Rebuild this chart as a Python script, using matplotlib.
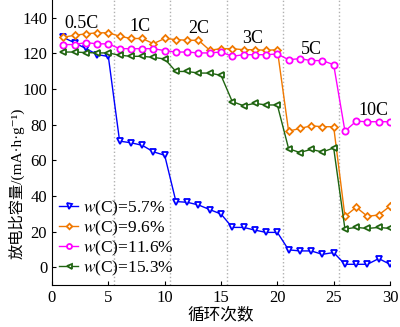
import numpy as np
import matplotlib.pyplot as plt

plt.rcParams['font.family'] = ['Liberation Serif', 'Noto Sans CJK SC', 'DejaVu Serif']
plt.rcParams['mathtext.fontset'] = 'stix'

cycles = np.arange(1, 31)
cap_57 = [129, 126, 122.8, 119.4, 118.3, 70.8, 69.9, 68.5, 64.8, 62.9,
          36.9, 36.5, 35, 32.4, 29.9, 22.4, 22.4, 20.9, 19.6, 19.6,
          9.8, 9.2, 9.2, 7.3, 8.3, 1.7, 1.7, 1.7, 4.9, 1.7]
cap_96 = [129.1, 130.2, 131, 131.6, 131.6, 129.7, 128.4, 128.4, 125.5, 128.4,
          127.8, 127.4, 127.4, 121.8, 122.7, 122.7, 122.1, 122.1, 121.8, 122.1,
          76.4, 77.9, 79.4, 78.9, 78.9, 28.6, 33.7, 28.6, 29.4, 34.3]
cap_116 = [125, 125, 126.1, 125.4, 125.4, 122.7, 122.7, 122.7, 122.7, 121.6,
           120.8, 120.8, 120.3, 120.3, 120.8, 118.4, 119.3, 119.3, 119.3, 119.7,
           116.5, 117.1, 116, 116, 113.7, 76.4, 82, 81.7, 81.7, 81.7]
cap_153 = [120.8, 120.8, 120.5, 120.3, 120.3, 119, 118.4, 118.4, 117.8, 116.9,
           109.9, 109.9, 109, 109, 107.7, 93, 90.7, 92, 91.1, 91.1,
           66.6, 64.4, 66.2, 64.7, 67, 21.5, 22.4, 21.8, 22.4, 21.8]

rate_labels = ['0.5C', '1C', '2C', '3C', '5C', '10C']
rate_x = [2.6, 7.8, 13.0, 17.8, 23.0, 28.5]
rate_y = [137, 135, 134, 128.5, 122, 88]
boundaries = [5.5, 10.5, 15.5, 20.5, 25.5]

fig = plt.figure(figsize=(4, 3.27), dpi=100)
ax = fig.add_axes([0.13, 0.128, 0.845, 0.872])

for b in boundaries:
    ax.axvline(b, color='#b0b0b0', ls=':', lw=1, zorder=0)

series = [
    (cap_57, '#0000ff', 'v', r'$w$(C)=5.7%'),
    (cap_96, '#f07800', 'D', r'$w$(C)=9.6%'),
    (cap_116, '#ff00ff', 'o', r'$w$(C)=11.6%'),
    (cap_153, '#1f6410', '<', r'$w$(C)=15.3%'),
]
for vals, c, m, lab in series:
    ms = 3.5 if m == 'D' else 4.5
    ax.plot(cycles, vals, color=c, marker=m, ms=ms, mfc='white', mec=c,
            mew=1.3, lw=1, label=lab)

for t, x, y in zip(rate_labels, rate_x, rate_y):
    ax.text(x, y, t, ha='center', va='center', fontsize=13)

ax.set_xlim(0, 30)
ax.set_ylim(-10, 150)
ax.set_xticks([0, 5, 10, 15, 20, 25, 30])
ax.set_yticks([0, 20, 40, 60, 80, 100, 120, 140])
ax.tick_params(direction='in', labelsize=12, length=3)
for s in ['top', 'right']:
    ax.spines[s].set_visible(False)

ax.set_xlabel('循环次数', fontsize=12, labelpad=1)
fig.text(0.04, 0.44, '放电比容量/(mA·h·g⁻¹)', rotation=90, ha='center',
         va='center', fontsize=11)

ax.legend(loc='lower left', bbox_to_anchor=(-0.005, -0.005), frameon=False,
          fontsize=12.5, handlelength=1.1, handletextpad=0.3,
          labelspacing=0.05, borderaxespad=0.1, markerscale=0.8)

fig.savefig('out.png', dpi=100)
